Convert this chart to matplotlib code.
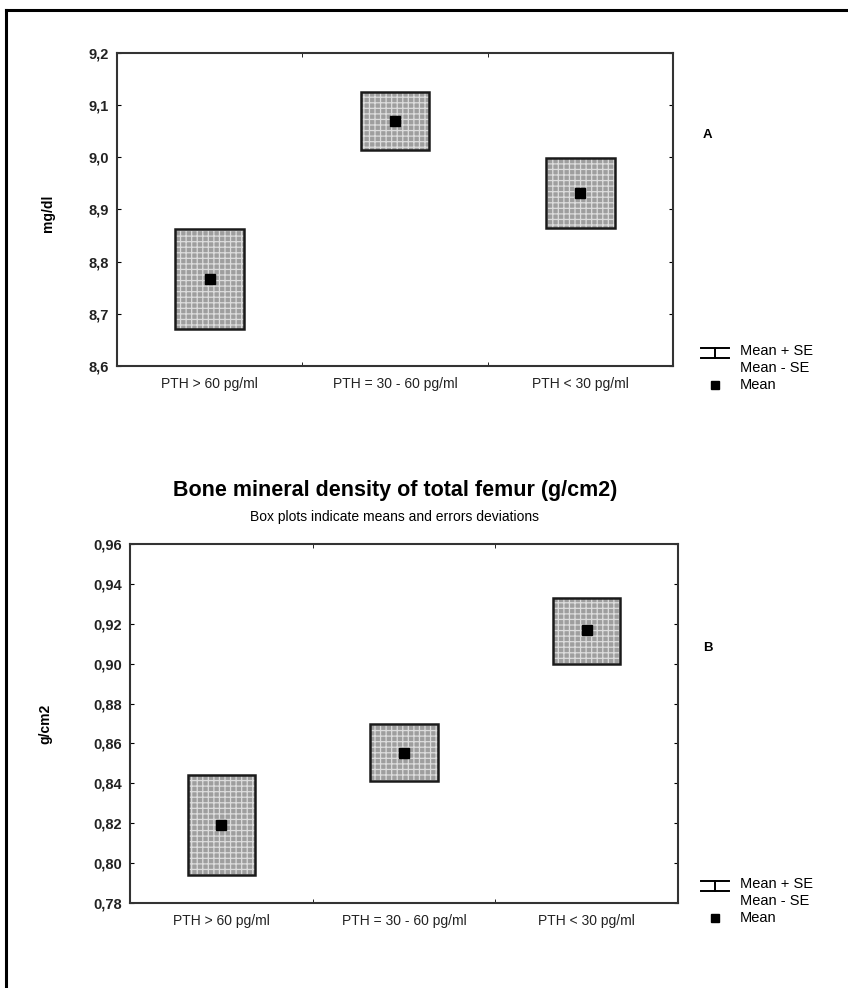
import matplotlib
matplotlib.use("Agg")
import matplotlib.pyplot as plt
from matplotlib.patches import Rectangle
from matplotlib.lines import Line2D
import numpy as np

plt.rcParams['font.family'] = ['Liberation Sans', 'DejaVu Sans']
plt.rcParams['hatch.linewidth'] = 0.9

# Data
groups = ['PTH > 60 pg/ml', 'PTH = 30 - 60 pg/ml', 'PTH < 30 pg/ml']

calcium_mean = [8.767, 9.070, 8.932]
calcium_lo = [8.671, 9.015, 8.865]
calcium_hi = [8.863, 9.125, 8.999]
calcium_ticks = [8.6, 8.7, 8.8, 8.9, 9.0, 9.1, 9.2]
calcium_ticklabels = ['8,6', '8,7', '8,8', '8,9', '9,0', '9,1', '9,2']

bmd_mean = [0.819, 0.855, 0.917]
bmd_lo = [0.794, 0.841, 0.900]
bmd_hi = [0.844, 0.870, 0.933]
bmd_ticks = [0.78, 0.80, 0.82, 0.84, 0.86, 0.88, 0.90, 0.92, 0.94, 0.96]
bmd_ticklabels = ['0,78', '0,80', '0,82', '0,84', '0,86', '0,88', '0,90', '0,92', '0,94', '0,96']

W, H = 848, 988
fig = plt.figure(figsize=(W / 100, H / 100), dpi=100)


def fx(px):
    return px / W


def fy(py):
    return 1 - py / H


def panel(rect, means, lo, hi, ticks, ticklabels, ylabel, ylabel_x, boxw):
    ax = fig.add_axes(rect)
    x = np.arange(len(groups)) + 0.5
    for xi, m, l, h in zip(x, means, lo, hi):
        ax.add_patch(Rectangle((xi - boxw / 2, l), boxw, h - l, facecolor='#9e9e9e',
                               edgecolor='#dcdcdc', hatch='+++', lw=0, zorder=2))
        ax.add_patch(Rectangle((xi - boxw / 2, l), boxw, h - l, fill=False,
                               edgecolor='#1a1a1a', lw=1.8, zorder=3))
    ax.plot(x, means, 's', color='black', ms=6.5, ls='none', zorder=4)
    ax.set_xlim(0, len(groups))
    ax.set_ylim(ticks[0], ticks[-1])
    ax.set_yticks(ticks)
    ax.set_yticklabels(ticklabels, fontsize=10.5, fontweight='bold', color='#222222')
    ax.set_xticks(x)
    ax.set_xticklabels(groups, fontsize=10, color='#222222')
    ax.set_xticks([1, 2], minor=True)
    ax.tick_params(axis='x', which='major', length=0, pad=8)
    ax.tick_params(axis='x', which='minor', direction='in', length=3, top=True, bottom=True)
    ax.tick_params(axis='y', direction='in', length=3, left=True, right=True, pad=6)
    ax.set_ylabel(ylabel, fontsize=10, fontweight='bold')
    ax.yaxis.set_label_coords(ylabel_x, 0.5, transform=fig.transFigure)
    for s in ax.spines.values():
        s.set_linewidth(1.5)
        s.set_color('#333333')
    return ax


ax1 = panel([fx(117), fy(366), fx(673) - fx(117), fy(53) - fy(366)],
            calcium_mean, calcium_lo, calcium_hi, calcium_ticks, calcium_ticklabels,
            'mg/dl', fx(55), 0.37)
ax2 = panel([fx(130), fy(903), fx(678) - fx(130), fy(544) - fy(903)],
            bmd_mean, bmd_lo, bmd_hi, bmd_ticks, bmd_ticklabels,
            'g/cm2', fx(52), 0.37)
# keep ylabel vertical positions centred on each axes
ax1.yaxis.label.set_y(fy(213))
ax2.yaxis.label.set_y(fy(724))

fig.text(fx(703), fy(135), 'A', fontsize=9.5, fontweight='bold', va='center')
fig.text(fx(703), fy(648), 'B', fontsize=9.5, fontweight='bold', va='center')

fig.text(fx(395), fy(490), 'Bone mineral density of total femur (g/cm2)',
         fontsize=15.5, fontweight='bold', ha='center', va='center')
fig.text(fx(395), fy(517), 'Box plots indicate means and errors deviations',
         fontsize=10, ha='center', va='center')


def legend(ytop):
    # I-beam symbol: mean + SE / mean - SE
    y1, y2 = ytop, ytop + 10
    for yy in (y1, y2):
        fig.add_artist(Line2D([fx(701), fx(729)], [fy(yy), fy(yy)], color='black', lw=1.4))
    fig.add_artist(Line2D([fx(715), fx(715)], [fy(y1), fy(y2)], color='black', lw=1.4))
    fig.text(fx(740), fy(ytop + 3), 'Mean + SE', fontsize=10.5, va='center')
    fig.text(fx(740), fy(ytop + 20), 'Mean - SE', fontsize=10.5, va='center')
    fig.add_artist(Line2D([fx(715)], [fy(ytop + 37)], marker='s', color='black', ms=5.5))
    fig.text(fx(740), fy(ytop + 37), 'Mean', fontsize=10.5, va='center')


legend(348)
legend(881)

# outer frame (top and left edges only)
fig.add_artist(Line2D([fx(6), 1], [fy(10), fy(10)], color='black', lw=2.2))
fig.add_artist(Line2D([fx(6), fx(6)], [fy(10), 0], color='black', lw=2.2))

fig.savefig('out.png', dpi=100)
